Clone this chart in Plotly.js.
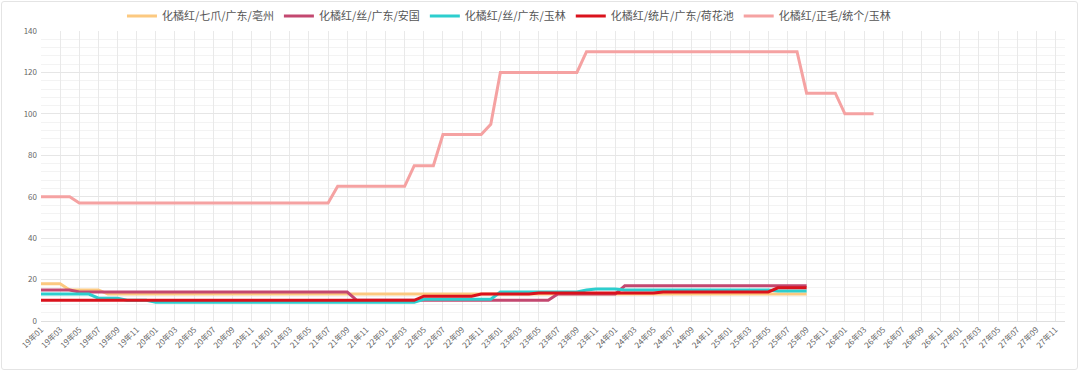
<!DOCTYPE html>
<html>
<head>
<meta charset="utf-8">
<script src="https://cdn.plot.ly/plotly-3.0.1.min.js"></script>
<style>
  html, body { margin: 0; padding: 0; background: #ffffff; }
  #wrap { position: relative; width: 1080px; height: 374px; overflow: hidden; }
  #chart { position: absolute; left: 0; top: 0; width: 1080px; height: 374px; }
  #frame { position: absolute; left: 1px; top: 1px; width: 1075px; height: 367px;
           border: 1px solid #e4e4e4; border-radius: 3px; pointer-events: none; }
</style>
</head>
<body>
<div id="wrap">
  <div id="chart"></div>
  <div id="frame"></div>
</div>
<script>
// Month categories (x axis)
const months = [
  "19年01","19年02","19年03","19年04","19年05","19年06","19年07","19年08","19年09","19年10","19年11","19年12",
  "20年01","20年02","20年03","20年04","20年05","20年06","20年07","20年08","20年09","20年10","20年11","20年12",
  "21年01","21年02","21年03","21年04","21年05","21年06","21年07","21年08","21年09","21年10","21年11","21年12",
  "22年01","22年02","22年03","22年04","22年05","22年06","22年07","22年08","22年09","22年10","22年11","22年12",
  "23年01","23年02","23年03","23年04","23年05","23年06","23年07","23年08","23年09","23年10","23年11","23年12",
  "24年01","24年02","24年03","24年04","24年05","24年06","24年07","24年08","24年09","24年10","24年11","24年12",
  "25年01","25年02","25年03","25年04","25年05","25年06","25年07","25年08","25年09","25年10","25年11","25年12",
  "26年01","26年02","26年03","26年04","26年05","26年06","26年07","26年08","26年09","26年10","26年11","26年12",
  "27年01","27年02","27年03","27年04","27年05","27年06","27年07","27年08","27年09","27年10","27年11","27年12"
];

// Tick labels shown (every other month)
const tickLabels = [
  "19年01","19年03","19年05","19年07","19年09","19年11",
  "20年01","20年03","20年05","20年07","20年09","20年11",
  "21年01","21年03","21年05","21年07","21年09","21年11",
  "22年01","22年03","22年05","22年07","22年09","22年11",
  "23年01","23年03","23年05","23年07","23年09","23年11",
  "24年01","24年03","24年05","24年07","24年09","24年11",
  "25年01","25年03","25年05","25年07","25年09","25年11",
  "26年01","26年03","26年05","26年07","26年09","26年11",
  "27年01","27年03","27年05","27年07","27年09","27年11"
];

// Series names
const seriesNames = [
  "化橘红/七爪/广东/亳州",
  "化橘红/丝/广东/安国",
  "化橘红/丝/广东/玉林",
  "化橘红/统片/广东/荷花池",
  "化橘红/正毛/统个/玉林"
];

// 19年01 .. 25年09
const qizhuaBozhou = [
  18,18,18,15,15,15,15,13,13,13,13,13,
  13,13,13,13,13,13,13,13,13,13,13,13,
  13,13,13,13,13,13,13,13,13,13,13,13,
  13,13,13,13,13,13,13,13,13,13,13,13,
  13,13,13,13,13,13,13,13,13,13,13,13,
  13,13,13,13,13,13,13,13,13,13,13,13,
  13,13,13,13,13,13,13,13,13
];

const siAnguo = [
  15,15,15,15,14,14,14,14,14,14,14,14,
  14,14,14,14,14,14,14,14,14,14,14,14,
  14,14,14,14,14,14,14,14,14,10,10,10,
  10,10,10,10,10,10,10,10,10,10,10,10,
  10,10,10,10,10,10,13,13,13,13,13,13,
  13,17,17,17,17,17,17,17,17,17,17,17,
  17,17,17,17,17,17,17,17,17
];

const siYulin = [
  13,13,13,13,13,13,11,11,11,10,10,10,
  9,9,9,9,9,9,9,9,9,9,9,9,
  9,9,9,9,9,9,9,9,9,9,9,9,
  9,9,9,9,10.5,10.5,10.5,10.5,10.5,10.5,10.5,10.5,
  14,14,14,14,14,14,14,14,14,15,15.5,15.5,
  15.5,15,15,15,15,15,15,15,15,15,15,15,
  15,15,15,15,15,14.5,14.5,14.5,14.5
];

const tongpianHehuachi = [
  10,10,10,10,10,10,10,10,10,10,10,10,
  10,10,10,10,10,10,10,10,10,10,10,10,
  10,10,10,10,10,10,10,10,10,10,10,10,
  10,10,10,10,12,12,12,12,12,12,13,13,
  13,13,13,13,13.5,13.5,13.5,13.5,13.5,13.5,13.5,13.5,
  13.5,13.5,13.5,13.5,13.5,14,14,14,14,14,14,14,
  14,14,14,14,14,16,16,16,16
];

// 19年01 .. 26年04
const zhengmaoYulin = [
  60,60,60,60,57,57,57,57,57,57,57,57,
  57,57,57,57,57,57,57,57,57,57,57,57,
  57,57,57,57,57,57,57,65,65,65,65,65,
  65,65,65,75,75,75,90,90,90,90,90,95,
  120,120,120,120,120,120,120,120,120,130,130,130,
  130,130,130,130,130,130,130,130,130,130,130,130,
  130,130,130,130,130,130,130,130,110,110,110,110,
  100,100,100,100
];

const seriesValues = [qizhuaBozhou, siAnguo, siYulin, tongpianHehuachi, zhengmaoYulin];
const seriesColors = ["rgb(252,201,128)", "rgb(195,72,112)", "rgb(45,206,206)", "rgb(218,18,28)", "rgb(245,162,162)"];

const traces = seriesNames.map((name, k) => ({
  type: "scatter",
  mode: "lines",
  name: name,
  x: months.slice(0, seriesValues[k].length),
  y: seriesValues[k],
  line: { color: seriesColors[k], width: 3, shape: "linear" },
  hoverinfo: "x+y+name"
}));

const FONT = '"Noto Sans CJK SC", "Noto Sans", sans-serif';

const layout = {
  width: 1080,
  height: 374,
  margin: { l: 41, r: 15, t: 31, b: 53, pad: 0, autoexpand: false },
  paper_bgcolor: "rgba(0,0,0,0)",
  plot_bgcolor: "#ffffff",
  font: { family: FONT, color: "#666666" },
  showlegend: true,
  legend: {
    orientation: "h",
    x: 0.457, xanchor: "center",
    y: 1.052, yanchor: "middle",
    font: { family: FONT, size: 11, color: "#555555" },
    itemwidth: 30,
    bgcolor: "rgba(0,0,0,0)"
  },
  xaxis: {
    type: "category",
    categoryorder: "array",
    categoryarray: months,
    range: [0, months.length - 1],
    tickmode: "array",
    tickvals: tickLabels,
    ticktext: tickLabels,
    tickangle: -45,
    tickfont: { family: FONT, size: 8, color: "#666666" },
    ticks: "",
    showgrid: true,
    gridcolor: "#e9e9e9",
    gridwidth: 1,
    showline: true,
    linecolor: "#dedede",
    linewidth: 1,
    zeroline: false,
    automargin: false,
    fixedrange: true
  },
  yaxis: {
    range: [0, 140],
    tickmode: "linear",
    tick0: 0,
    dtick: 20,
    tickfont: { family: FONT, size: 8, color: "#666666" },
    ticks: "",
    ticklabelstandoff: 3,
    showgrid: true,
    gridcolor: "#e6e6e6",
    gridwidth: 1,
    minor: { dtick: 4, showgrid: true, gridcolor: "#f3f3f3", gridwidth: 1 },
    zeroline: false,
    showline: false,
    automargin: false,
    fixedrange: true
  }
};

Plotly.newPlot("chart", traces, layout, { displayModeBar: false, staticPlot: true });
</script>
</body>
</html>
